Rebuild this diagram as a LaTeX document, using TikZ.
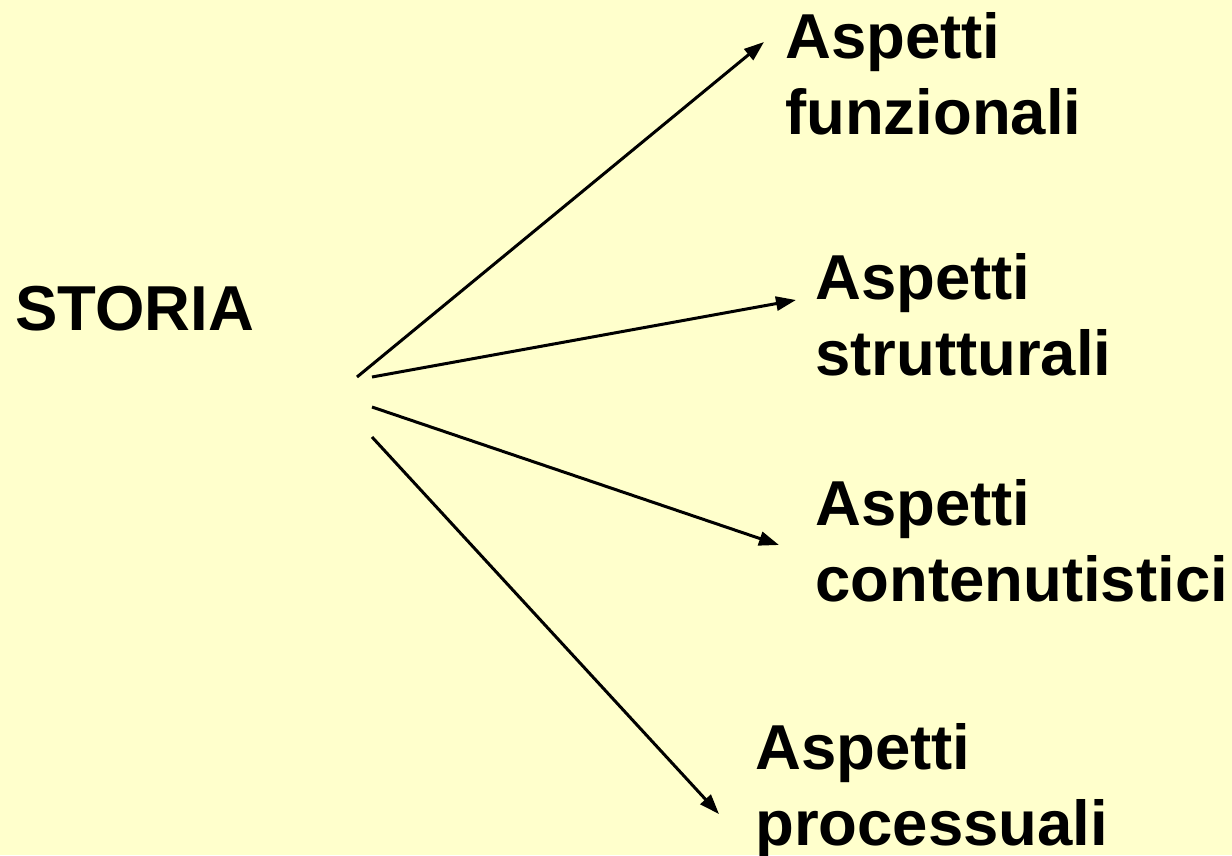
\documentclass[tikz,border=0pt]{standalone}
\usepackage{fontspec}
\setmainfont{Liberation Sans}
\usetikzlibrary{arrows.meta}
\definecolor{bgyellow}{HTML}{FFFFCC}
\begin{document}
\begin{tikzpicture}[x=1pt,y=-1pt,
  lbl/.style={font=\fontsize{63.5}{76}\selectfont\bfseries, inner sep=0pt, align=left, anchor=base west},
  conn/.style={line width=3pt, -{Triangle[length=20pt,width=14pt]}}]
\fill[bgyellow] (0,0) rectangle (1232,855);
\useasboundingbox (0,0) rectangle (1232,855);
\node[lbl] (storia) at (15,330) {STORIA};
\node[lbl] (funz) at (785,134) {Aspetti\\funzionali};
\node[lbl] (strut) at (815,375) {Aspetti\\strutturali};
\node[lbl] (cont) at (815,601) {Aspetti\\contenutistici};
\node[lbl] (proc) at (755,845) {Aspetti\\processuali};
\coordinate (s1) at (357,377);
\coordinate (s2) at (372,377);
\coordinate (s3) at (372,407);
\coordinate (s4) at (372,437);
\coordinate (e1) at (764,42);
\coordinate (e2) at (796,300);
\coordinate (e3) at (779,545);
\coordinate (e4) at (719,814);
\draw[conn] (s1) -- (e1);
\draw[conn] (s2) -- (e2);
\draw[conn] (s3) -- (e3);
\draw[conn] (s4) -- (e4);
\end{tikzpicture}
\end{document}
